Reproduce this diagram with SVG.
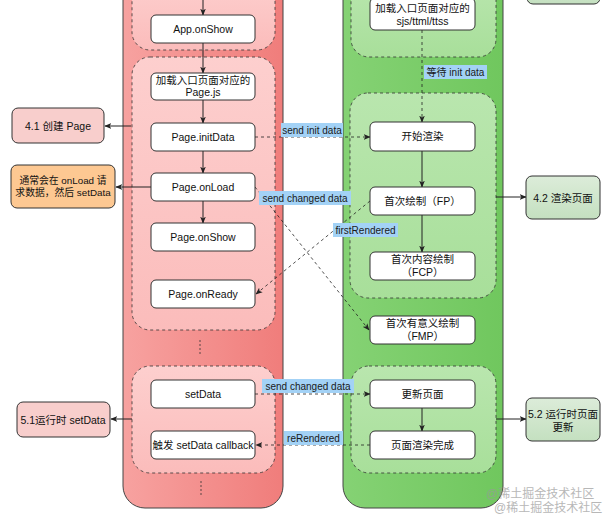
<svg xmlns="http://www.w3.org/2000/svg" width="613" height="518" viewBox="0 0 613 518">
<defs>
<linearGradient id="gRed" x1="0" y1="0" x2="1" y2="0"><stop offset="0" stop-color="#f7a2a0"/><stop offset="1" stop-color="#f07d7b"/></linearGradient>
<linearGradient id="gGreen" x1="0" y1="0" x2="1" y2="0"><stop offset="0" stop-color="#85d274"/><stop offset="1" stop-color="#70c75e"/></linearGradient>
<linearGradient id="gRedIn" x1="0" y1="0" x2="0" y2="1"><stop offset="0" stop-color="#fdcfce"/><stop offset="1" stop-color="#fbbcbb"/></linearGradient>
<linearGradient id="gGreenIn" x1="0" y1="0" x2="0" y2="1"><stop offset="0" stop-color="#b9e6ae"/><stop offset="1" stop-color="#a8df9a"/></linearGradient>
<linearGradient id="gSide" x1="0" y1="0" x2="0" y2="1"><stop offset="0" stop-color="#dcecd9"/><stop offset="1" stop-color="#c4e0c0"/></linearGradient>
<marker id="ah" viewBox="0 0 10 10" refX="9" refY="5" markerWidth="7" markerHeight="7" orient="auto-start-reverse" markerUnits="userSpaceOnUse"><path d="M0,1 L10,5 L0,9 L2.5,5 Z" fill="#222"/></marker>
</defs>
<style>
text{font-family:"Liberation Sans","Noto Sans CJK SC",sans-serif;font-size:10.5px;fill:#111;text-anchor:middle}
.node{fill:#fff;stroke:#333;stroke-width:1}
.lane{stroke:#444;stroke-width:1}
.cont{stroke:#333;stroke-width:0.8;stroke-dasharray:3 3}
.solid{stroke:#222;stroke-width:1;fill:none;marker-end:url(#ah)}
.dash{stroke:#222;stroke-width:0.8;fill:none;stroke-dasharray:3 3;marker-end:url(#ah)}
.dot{stroke:#333;stroke-width:0.8;fill:none;stroke-dasharray:2 2}
.lbl{fill:#a3d2f6}
.lt{font-size:10px;fill:#1a1a1a}
.sm{font-size:9.8px}
.wm{font-size:12px;fill:#9a9a9a;text-anchor:start;opacity:0.7}
</style>
<rect width="613" height="518" fill="#fff"/>
<g id="redLane">
<rect class="lane" x="123" y="-30" width="160" height="538" rx="22" fill="url(#gRed)"/>
<rect class="cont" x="132" y="-20" width="143" height="70" rx="18" fill="url(#gRedIn)"/>
<rect class="cont" x="132" y="57" width="143" height="273" rx="18" fill="url(#gRedIn)"/>
<rect class="cont" x="132" y="366" width="143" height="107" rx="18" fill="url(#gRedIn)"/>
</g>
<g id="greenLane">
<rect class="lane" x="343" y="-30" width="160" height="538" rx="22" fill="url(#gGreen)"/>
<rect class="cont" x="351" y="-20" width="145" height="77" rx="18" fill="url(#gGreenIn)"/>
<rect class="cont" x="350" y="93" width="146" height="205" rx="18" fill="url(#gGreenIn)"/>
<rect class="cont" x="351" y="366" width="145" height="107" rx="18" fill="url(#gGreenIn)"/>
</g>
<g id="connectors">
<path class="solid" d="M203,0 V15"/>
<path class="solid" d="M203,43 V73"/>
<path class="solid" d="M203,100 V123"/>
<path class="solid" d="M203,151 V173"/>
<path class="solid" d="M203,201 V223"/>
<path class="dot" d="M200,340 V356"/>
<path class="dot" d="M201,481 V497"/>
<path class="solid" d="M131,126 H105"/>
<path class="solid" d="M151,187 H116"/>
<path class="solid" d="M132,419 H111"/>
<path class="dash" d="M422,30 V122"/>
<path class="solid" d="M422,151 V187"/>
<path class="solid" d="M422,215 V252"/>
<path class="solid" d="M422,408 V431"/>
<path class="solid" d="M496,197 H526"/>
<path class="solid" d="M496,419 H526"/>
<path class="dash" d="M255,137 H370"/>
<path class="dash" d="M255,187 L369,330"/>
<path class="dash" d="M370,201 L256,294"/>
<path class="dash" d="M255,394 H370"/>
<path class="dash" d="M370,445 H256"/>
<rect class="lbl" x="424" y="65" width="63" height="14"/><text class="lt" x="455.5" y="75.5">等待 init data</text>
<rect class="lbl" x="281" y="123" width="62" height="14"/><text class="lt" x="312" y="133.5">send init data</text>
<rect class="lbl" x="259" y="191" width="92" height="14"/><text class="lt" x="305" y="201.5">send changed data</text>
<rect class="lbl" x="333" y="223" width="65" height="14"/><text class="lt" x="365.5" y="233.5">firstRendered</text>
<rect class="lbl" x="262" y="379" width="92" height="14"/><text class="lt" x="308" y="389.5">send changed data</text>
<rect class="lbl" x="284" y="431" width="59" height="14"/><text class="lt" x="313.5" y="441.5">reRendered</text>
</g>
<g id="appOnShow"><rect class="node" x="151" y="15" width="104" height="28" rx="5"/><text x="203" y="33">App.onShow</text></g>
<g id="loadPageJs"><rect class="node" x="151" y="73" width="104" height="27" rx="5"/><text x="203" y="84">加载入口页面对应的</text><text x="203" y="96">Page.js</text></g>
<g id="pageInitData"><rect class="node" x="151" y="123" width="104" height="28" rx="5"/><text x="203" y="141">Page.initData</text></g>
<g id="pageOnLoad"><rect class="node" x="151" y="173" width="104" height="28" rx="5"/><text x="203" y="191">Page.onLoad</text></g>
<g id="pageOnShow"><rect class="node" x="151" y="223" width="104" height="28" rx="5"/><text x="203" y="241">Page.onShow</text></g>
<g id="pageOnReady"><rect class="node" x="151" y="280" width="104" height="28" rx="5"/><text x="203" y="298">Page.onReady</text></g>
<g id="setData"><rect class="node" x="151" y="380" width="104" height="28" rx="5"/><text x="203" y="398">setData</text></g>
<g id="setDataCallback"><rect class="node" x="151" y="431" width="104" height="28" rx="5"/><text x="203" y="449">触发 setData callback</text></g>
<g id="createPage"><rect x="12" y="108" width="92" height="35" rx="6" fill="#f8cecc" stroke="#333"/><text x="58" y="130">4.1 创建 Page</text></g>
<g id="onLoadNote"><rect x="11" y="165" width="104" height="43" rx="6" fill="#fdc892" stroke="#333"/><text class="sm" x="63" y="184">通常会在 onLoad 请</text><text class="sm" x="63" y="196">求数据，然后 setData</text></g>
<g id="runtimeSetData"><rect x="17" y="402" width="93" height="35" rx="6" fill="#f8cecc" stroke="#333"/><text x="63" y="424">5.1运行时 setData</text></g>
<g id="loadSjs"><rect class="node" x="370" y="-2" width="105" height="32" rx="5"/><text x="422.5" y="12">加载入口页面对应的</text><text x="422.5" y="25">sjs/ttml/ttss</text></g>
<g id="startRender"><rect class="node" x="370" y="122" width="105" height="29" rx="5"/><text x="422.5" y="140">开始渲染</text></g>
<g id="fp"><rect class="node" x="370" y="187" width="105" height="28" rx="5"/><text x="422.5" y="205">首次绘制（FP）</text></g>
<g id="fcp"><rect class="node" x="370" y="252" width="105" height="28" rx="5"/><text x="422.5" y="263">首次内容绘制</text><text x="422.5" y="276">（FCP）</text></g>
<g id="fmp"><rect class="node" x="370" y="316" width="105" height="28" rx="5"/><text x="422.5" y="327">首次有意义绘制</text><text x="422.5" y="340">（FMP）</text></g>
<g id="updatePage"><rect class="node" x="370" y="380" width="105" height="28" rx="5"/><text x="422.5" y="398">更新页面</text></g>
<g id="renderDone"><rect class="node" x="370" y="431" width="105" height="28" rx="5"/><text x="422.5" y="449">页面渲染完成</text></g>
<g id="topRight"><rect x="527" y="-30" width="73" height="34" rx="6" fill="url(#gSide)" stroke="#333"/></g>
<g id="renderPage"><rect x="526" y="176" width="74" height="43" rx="6" fill="url(#gSide)" stroke="#333"/><text x="563" y="202">4.2 渲染页面</text></g>
<g id="runtimeUpdate"><rect x="526" y="398" width="74" height="43" rx="6" fill="url(#gSide)" stroke="#333"/><text x="563" y="418">5.2 运行时页面</text><text x="563" y="431">更新</text></g>
<g id="watermark"><text class="wm" x="486" y="498">@稀土掘金技术社区</text><text class="wm" x="494" y="512">@稀土掘金技术社区</text></g>
</svg>
